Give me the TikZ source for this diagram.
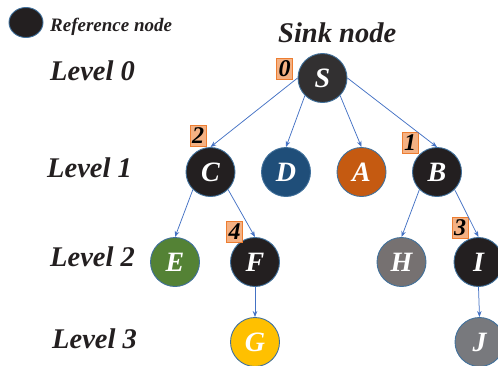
\documentclass[tikz,border=0pt]{standalone}
\usepackage{fontspec}
\setmainfont{Liberation Serif}
\usetikzlibrary{arrows.meta,shapes.geometric}
\definecolor{edgeblue}{RGB}{68,114,196}
\definecolor{rimblue}{RGB}{65,113,156}
\definecolor{nblack}{RGB}{35,31,32}
\definecolor{ndark}{RGB}{50,48,49}
\definecolor{nblue}{RGB}{31,78,121}
\definecolor{norange}{RGB}{197,90,17}
\definecolor{ngreen}{RGB}{84,130,53}
\definecolor{ngray}{RGB}{118,113,113}
\definecolor{ngrayb}{RGB}{120,121,125}
\definecolor{nyellow}{RGB}{255,192,0}
\definecolor{tagfill}{RGB}{244,177,131}
\definecolor{tagrim}{RGB}{237,125,49}
\tikzset{
  tnode/.style={circle,draw=rimblue,line width=0.9pt,minimum size=49pt,inner sep=0pt,
    text=white,font=\fontsize{28}{28}\selectfont\bfseries\itshape},
  tag/.style={rectangle,draw=tagrim,fill=tagfill,line width=0.8pt,minimum width=16pt,
    minimum height=21pt,inner sep=0pt,font=\fontsize{24}{24}\selectfont\bfseries\itshape},
  lvl/.style={anchor=base west,inner sep=0pt,font=\fontsize{28.5}{28.5}\selectfont\bfseries\itshape,text=nblack},
  edge/.style={draw=edgeblue,line width=0.75pt,-{Stealth[length=6pt,width=4.5pt]}}
}
\begin{document}
\begin{tikzpicture}[x=1pt,y=-1pt]
\useasboundingbox (0,0) rectangle (498,365);
% legend
\node[ellipse,draw=rimblue,line width=0.9pt,fill=nblack,minimum width=34pt,minimum height=30pt,inner sep=0pt] (leg) at (26,22.5) {};
\node[anchor=base west,inner sep=0pt,font=\fontsize{19}{19}\selectfont\bfseries\itshape,text=nblack] (legt) at (50,31) {Reference node};
\node[lvl] (sink) at (278,42) {Sink node};
% level labels
\node[lvl] (l0) at (50,80) {Level 0};
\node[lvl] (l1) at (47,177) {Level 1};
\node[lvl] (l2) at (50,266) {Level 2};
\node[lvl] (l3) at (52,348) {Level 3};
% nodes
\node[tnode,fill=ndark] (S) at (322.5,78) {S};
\node[tnode,fill=nblack] (C) at (210.5,172) {C};
\node[tnode,fill=nblue] (D) at (286,172) {D};
\node[tnode,fill=norange] (A) at (361.5,172) {A};
\node[tnode,fill=nblack] (B) at (437,172) {B};
\node[tnode,fill=ngreen] (E) at (175,262) {E};
\node[tnode,fill=nblack] (F) at (255,262) {F};
\node[tnode,fill=ngray] (H) at (401.5,262) {H};
\node[tnode,fill=nblack] (I) at (478.5,262) {I};
\node[tnode,fill=nyellow] (G) at (255,342) {G};
\node[tnode,fill=ngrayb] (J) at (479.5,342) {J};
% tags
\node[tag] (t0) at (284.5,68.5) {0};
\node[tag] (t2) at (198,135.5) {2};
\node[tag] (t1) at (410,142.5) {1};
\node[tag] (t3) at (460,227.5) {3};
\node[tag] (t4) at (234.5,232) {4};
% edges
\draw[edge] (S.west) -- (C.north);
\draw[edge] (S.south west) -- (D.north);
\draw[edge] (S.south east) -- (A.north);
\draw[edge] (S.east) -- (B.north);
\draw[edge] (C.south west) -- (E.north);
\draw[edge] (C.south east) -- (F.north);
\draw[edge] (B.south west) -- (H.north);
\draw[edge] (B.south east) -- (I.north);
\draw[edge] (F.south) -- (G.north);
\draw[edge] (I.south) -- (J.north);
\end{tikzpicture}
\end{document}
